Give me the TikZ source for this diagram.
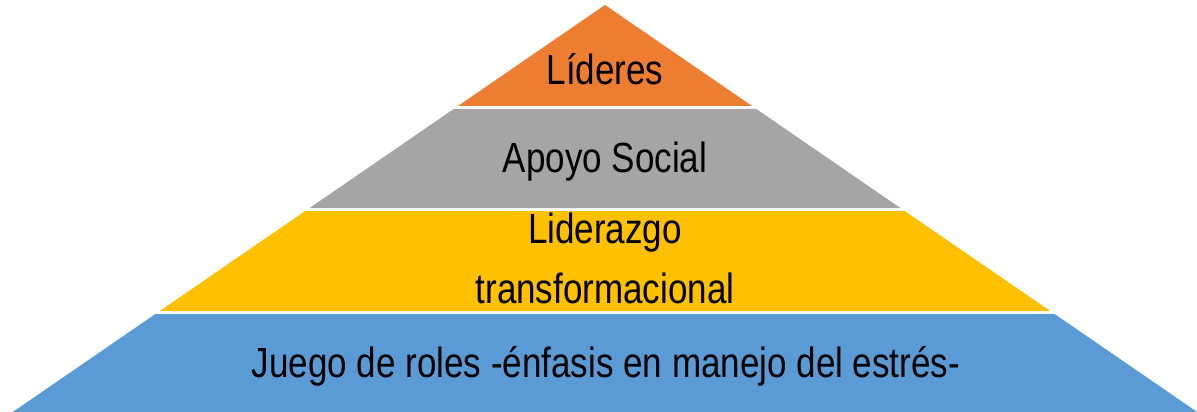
\documentclass[tikz,border=0pt]{standalone}
\usepackage{fontspec}
\newfontfamily\pyrfont[FakeStretch=0.83]{Liberation Sans}
\definecolor{lidorange}{HTML}{ED7D31}
\definecolor{apogray}{HTML}{A5A5A5}
\definecolor{libyellow}{HTML}{FFC000}
\definecolor{juebblue}{HTML}{5B9BD5}
\begin{document}
\begin{tikzpicture}[
        x=0.02cm, y=-0.02cm,
        every node/.style={font=\pyrfont\fontsize{24}{34}\selectfont, text=black, anchor=base, align=center, inner sep=0pt}
    ]
    \useasboundingbox (0,0) rectangle (1197,412);

    % pyramid levels, top to bottom
    \fill[lidorange] (605,5) -- (752.0,106) -- (458.0,106) -- cycle;
    \fill[apogray] (453.7,109) -- (756.3,109) -- (900.4,208) -- (309.6,208) -- cycle;
    \fill[libyellow] (305.3,211) -- (904.7,211) -- (1050.2,311) -- (159.8,311) -- cycle;
    \fill[juebblue] (155.4,314) -- (1054.6,314) -- (1197.2,412) -- (12.8,412) -- cycle;

    % labels
    \node (lideres) at (605,85) {Líderes};
    \node (apoyo) at (605,173) {Apoyo Social};
    \node (liderazgo) at (605,303) {Liderazgo\\transformacional};
    \node (juego) at (606,377) {Juego de roles -énfasis en manejo del estrés-};
\end{tikzpicture}
\end{document}
